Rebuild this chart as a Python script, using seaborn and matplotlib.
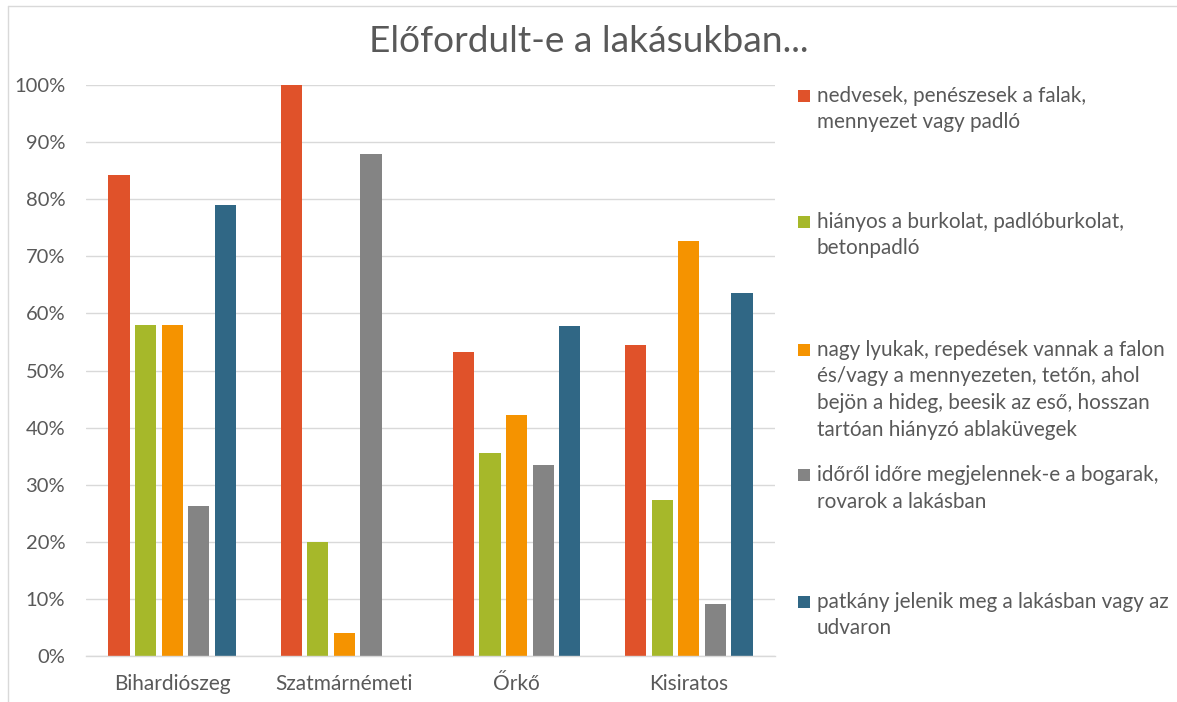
import matplotlib
matplotlib.use("Agg")
import matplotlib.pyplot as plt
from matplotlib.patches import Rectangle
from matplotlib.lines import Line2D
from matplotlib.ticker import PercentFormatter
import numpy as np
import pandas as pd
import seaborn as sns

# ── data ───────────────────────────────────────────────────────────────────────
places = ["Bihardiószeg", "Szatmárnémeti", "Őrkő", "Kisiratos"]

series_labels = [
    "nedvesek, penészesek a falak,\nmennyezet vagy padló",
    "hiányos a burkolat, padlóburkolat,\nbetonpadló",
    "nagy lyukak, repedések vannak a falon\nés/vagy a mennyezeten, tetőn, ahol\nbejön a hideg, beesik az eső, hosszan\ntartóan hiányzó ablaküvegek",
    "időről időre megjelennek-e a bogarak,\nrovarok a lakásban",
    "patkány jelenik meg a lakásban vagy az\nudvaron",
]

damp     = [0.842, 1.000, 0.533, 0.545]
floor    = [0.579, 0.200, 0.355, 0.273]
holes    = [0.579, 0.040, 0.422, 0.727]
insects  = [0.263, 0.880, 0.334, 0.091]
rats     = [0.789, 0.000, 0.578, 0.636]

series_values = [damp, floor, holes, insects, rats]
colors = ["#E0522A", "#A6B82A", "#F59300", "#848484", "#306785"]

title = "Előfordult-e a lakásukban..."

# ── long table for seaborn ─────────────────────────────────────────────────────
rows = []
for lab, vals in zip(series_labels, series_values):
    for p, v in zip(places, vals):
        rows.append({"place": p, "series": lab, "value": v})
df = pd.DataFrame(rows)

# ── plot ───────────────────────────────────────────────────────────────────────
sns.set_style("white")
plt.rcParams["font.family"] = ["Lato", "DejaVu Sans"]
TXT = "#595959"
W, H = 1177, 702

fig = plt.figure(figsize=(W / 100, H / 100), dpi=100)
ax = fig.add_axes([86 / W, 1 - 656 / H, (775 - 86) / W, (656 - 85) / H])

sns.barplot(
    data=df, x="place", y="value", hue="series",
    order=places, hue_order=series_labels, palette=colors,
    width=0.77, gap=0.2, ax=ax, legend=False, saturation=1,
    edgecolor="none", linewidth=0,
)

ax.set_ylim(0, 1.0)
ax.set_xlim(-0.5, len(places) - 0.5)
ax.set_yticks(np.arange(0, 1.01, 0.1))
ax.yaxis.set_major_formatter(PercentFormatter(1.0, decimals=0))
ax.grid(axis="y", color="#D9D9D9", linewidth=1)
ax.set_axisbelow(True)
for side in ["top", "right", "left"]:
    ax.spines[side].set_visible(False)
ax.spines["bottom"].set_color("#D9D9D9")
ax.spines["bottom"].set_linewidth(1)
ax.tick_params(axis="y", length=0, labelsize=14.5, labelcolor=TXT, pad=15)
ax.tick_params(axis="x", length=0, labelsize=15, labelcolor=TXT, pad=13)
ax.set_xlabel("")
ax.set_ylabel("")

fig.text(0.5, 1 - 42 / H, title, ha="center", va="center", fontsize=26.7, color=TXT)

# ── legend, placed like the Excel legend ───────────────────────────────────────
leg_centers = [96, 222, 350, 475, 602]   # first-line centre, px from top
line_step = 26.5
for lab, col, yc in zip(series_labels, colors, leg_centers):
    fig.patches.append(Rectangle(
        (798 / W, 1 - (yc + 6) / H), 12 / W, 12 / H,
        transform=fig.transFigure, facecolor=col, edgecolor="none"))
    for i, line in enumerate(lab.split("\n")):
        fig.text(817 / W, 1 - (yc + 6 + i * line_step) / H, line,
                 ha="left", va="baseline", fontsize=14.9, color=TXT)

# chart border (top and left visible)
fig.lines.append(Line2D([8 / W, 1], [1 - 6 / H, 1 - 6 / H],
                        transform=fig.transFigure, color="#D9D9D9", linewidth=1))
fig.lines.append(Line2D([8 / W, 8 / W], [0, 1 - 6 / H],
                        transform=fig.transFigure, color="#D9D9D9", linewidth=1))

fig.savefig("out.png", dpi=100)
plt.close(fig)
